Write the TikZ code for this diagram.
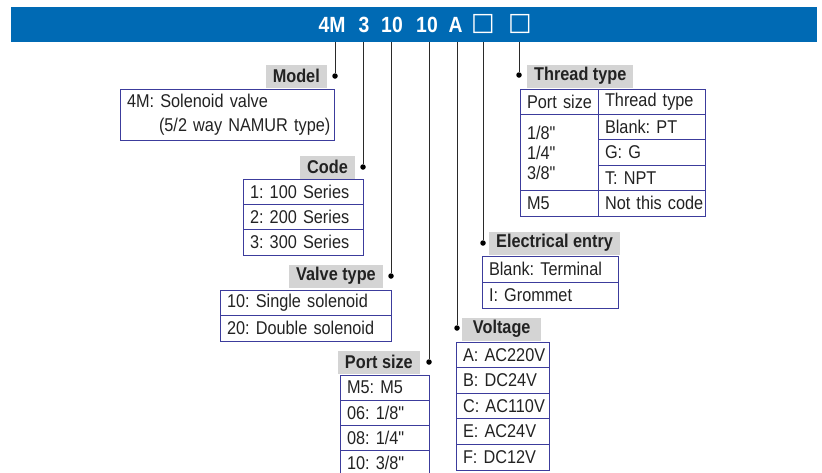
\documentclass[tikz,border=0pt]{standalone}
\usepackage{fontspec}
\setmainfont{Liberation Sans}[FakeStretch=0.88, Ligatures=TeXOff]
\newfontfamily\boxfont{DejaVu Sans}
\usetikzlibrary{positioning}

\definecolor{bannerblue}{HTML}{006AB4}
\definecolor{cellblue}{HTML}{3C3C9C}
\definecolor{taggray}{HTML}{D4D4D4}
\definecolor{leadgray}{HTML}{2A2A2A}
\definecolor{inkgray}{HTML}{222222}

\begin{document}
\frenchspacing
\begin{tikzpicture}[
    x=1pt, y=-1pt,
    node distance=0pt,
    banner/.style={fill=bannerblue, draw=none, inner sep=0pt},
    code/.style={text=white, font=\fontsize{22}{26}\selectfont\bfseries, inner sep=0pt},
    tag/.style={fill=taggray, text=inkgray, font=\fontsize{18.5}{22}\selectfont\bfseries,
                minimum height=23pt, inner xsep=7pt, inner ysep=0pt},
    tablebox/.style={draw=cellblue, line width=0.8pt, text width=#1, minimum height=25.5pt,
                 inner xsep=7pt, inner ysep=0pt, align=left, text=inkgray, outer sep=0pt,
                 font=\fontsize{18.5}{20}\selectfont},
    cell/.style={tablebox=#1, execute at begin node={\hbox\bgroup}, execute at end node={\egroup}},
    lead/.style={draw=leadgray, line width=0.8pt},
    dot/.style={circle, fill=black, inner sep=0pt, minimum size=5.5pt}
]
\useasboundingbox (0,0) rectangle (822,472);

% banner with the order code
\node[banner, anchor=north west, minimum width=806pt, minimum height=35pt] (banner) at (11,7) {};
\node[code] (cM)  at (332,25) {4M};
\node[code] (cC)  at (364,25) {3};
\node[code] (cV)  at (392,25) {10};
\node[code] (cP)  at (427,25) {10};
\node[code] (cA)  at (455.5,25) {A};
\node[code, font=\boxfont\fontsize{25}{25}\selectfont] (cE) at (483,24) {□};
\node[code, font=\boxfont\fontsize{25}{25}\selectfont] (cT) at (520,24) {□};

\coordinate (lM) at (335,42);
\coordinate (lC) at (363,42);
\coordinate (lV) at (391,42);
\coordinate (lP) at (429,42);
\coordinate (lA) at (457,42);
\coordinate (lE) at (483,42);
\coordinate (lT) at (519,42);

% model
\node[dot] (dM) at (335,76) {};
\node[tag, anchor=east] (tM) at (327,76) {Model};
\node[tablebox=200pt, anchor=north west, minimum height=51pt,
      font=\fontsize{18.5}{24}\selectfont] (model) at (120,89)
      {\hbox{4M: Solenoid valve}\\\hbox{\hspace*{32pt}(5/2 way NAMUR type)}};

% code
\node[dot] (dC) at (363,167) {};
\node[tag, anchor=east] (tC) at (355,167) {Code};
\node[cell=106pt, anchor=north west, minimum height=25.3pt] (code1) at (243,179) {1: 100 Series};
\node[cell=106pt, minimum height=25.3pt, below=of code1] (code2) {2: 200 Series};
\node[cell=106pt, minimum height=25.3pt, below=of code2] (code3) {3: 300 Series};

% valve type
\node[dot] (dV) at (391,276) {};
\node[tag, anchor=east] (tV) at (383,276) {Valve type};
\node[cell=157pt, anchor=north west] (valve1) at (220,290) {10: Single solenoid};
\node[cell=157pt, below=of valve1] (valve2) {20: Double solenoid};

% port size
\node[dot] (dP) at (429,362) {};
\node[tag, anchor=east] (tP) at (420,362) {Port size};
\node[cell=75pt, anchor=north west, minimum height=25.2pt] (port1) at (340,375) {M5: M5};
\node[cell=75pt, minimum height=25.2pt, below=of port1] (port2) {06: 1/8"};
\node[cell=75pt, minimum height=25.2pt, below=of port2] (port3) {08: 1/4"};
\node[cell=75pt, minimum height=25.2pt, below=of port3] (port4) {10: 3/8"};

% voltage
\node[dot] (dA) at (457,328) {};
\node[tag, anchor=west, minimum width=79pt] (tA) at (462,329) {Voltage};
\node[cell=79pt, anchor=north west, minimum height=25.6pt] (volt1) at (456,342) {A: AC220V};
\node[cell=79pt, minimum height=25.6pt, below=of volt1] (volt2) {B: DC24V};
\node[cell=79pt, minimum height=25.6pt, below=of volt2] (volt3) {C: AC110V};
\node[cell=79pt, minimum height=25.6pt, below=of volt3] (volt4) {E: AC24V};
\node[cell=79pt, minimum height=25.6pt, below=of volt4] (volt5) {F: DC12V};

% electrical entry
\node[dot] (dE) at (483,243) {};
\node[tag, anchor=west] (tE) at (489,243) {Electrical entry};
\node[cell=122pt, anchor=north west, minimum height=26pt] (elec1) at (482,256) {Blank: Terminal};
\node[cell=122pt, minimum height=26pt, below=of elec1] (elec2) {I: Grommet};

% thread type
\node[dot] (dT) at (519,75) {};
\node[tag, anchor=west] (tT) at (527,76) {Thread type};
\node[cell=64pt, anchor=north west, minimum height=25.4pt] (thrA) at (520,89) {Port size};
\node[tablebox=64pt, minimum height=76.2pt, below=of thrA] (thrB) {1/8"\\1/4"\\3/8"};
\node[cell=64pt, minimum height=25.4pt, below=of thrB] (thrC) {M5};
\node[cell=93pt, anchor=north west, minimum height=25.4pt] (thr1) at (598,89) {Thread type};
\node[cell=93pt, minimum height=25.4pt, below=of thr1] (thr2) {Blank: PT};
\node[cell=93pt, minimum height=25.4pt, below=of thr2] (thr3) {G: G};
\node[cell=93pt, minimum height=25.4pt, below=of thr3] (thr4) {T: NPT};
\node[cell=93pt, minimum height=25.4pt, below=of thr4] (thr5) {Not this code};

% leaders from the code letters
\draw[lead] (lM) -- (dM);
\draw[lead] (lC) -- (dC);
\draw[lead] (lV) -- (dV);
\draw[lead] (lP) -- (dP);
\draw[lead] (lA) -- (dA);
\draw[lead] (lE) -- (dE);
\draw[lead] (lT) -- (dT);
\end{tikzpicture}
\end{document}
